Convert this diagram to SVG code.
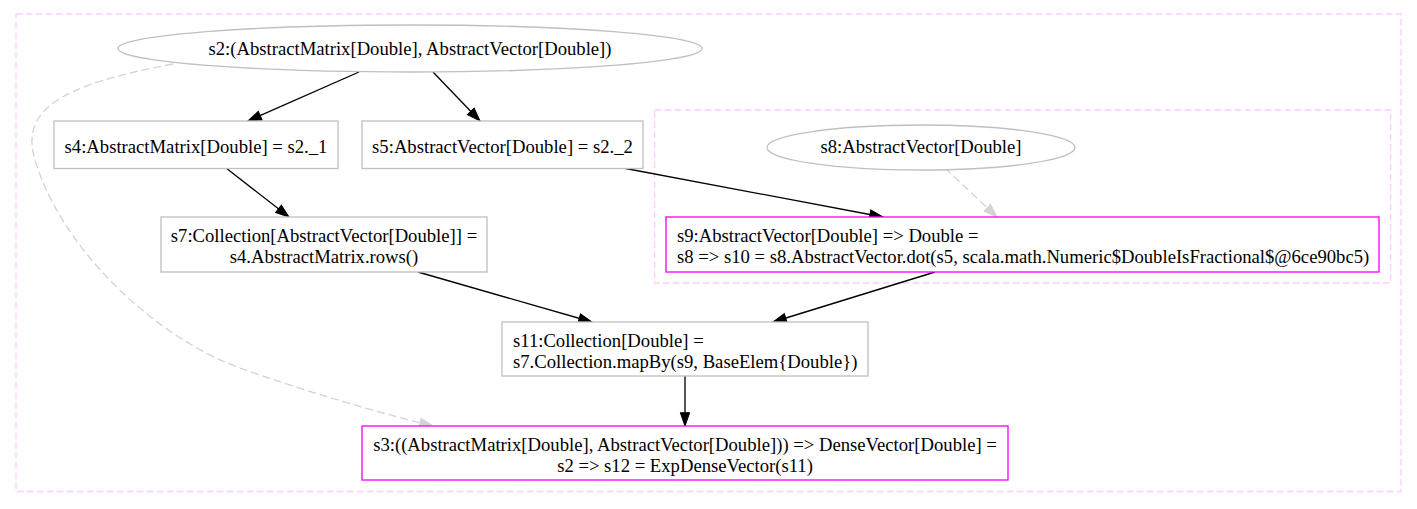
<svg xmlns="http://www.w3.org/2000/svg" width="1417" height="509" viewBox="0 0 1417 509">
<style>
text{font-family:"Liberation Serif","Times New Roman",serif;font-size:18.67px;fill:#000}
.c{text-anchor:middle}
.cl{fill:none;stroke:#ffccff;stroke-width:1.33;stroke-dasharray:6.7,3.3}
.n{fill:#fff;stroke:#c0c0c0;stroke-width:1.33}
.m{fill:#fff;stroke:#ff00ff;stroke-width:1.33}
.e{fill:none;stroke:#000;stroke-width:1.33}
.d{fill:none;stroke:#d3d3d3;stroke-width:1.33;stroke-dasharray:8,4}
</style>
<defs>
<marker id="ab" markerUnits="userSpaceOnUse" markerWidth="14" markerHeight="10" refX="13.3" refY="4.67" orient="auto" overflow="visible">
<path d="M0,0 L13.3,4.67 L0,9.33 Z" fill="#000" stroke="#000" stroke-width="1"/>
</marker>
<marker id="ag" markerUnits="userSpaceOnUse" markerWidth="14" markerHeight="10" refX="13.3" refY="4.67" orient="auto" overflow="visible">
<path d="M0,0 L13.3,4.67 L0,9.33 Z" fill="#d3d3d3" stroke="#d3d3d3" stroke-width="1"/>
</marker>
</defs>
<rect width="1417" height="509" fill="#fff"/>
<g id="clusters">
<rect class="cl" x="16" y="14" width="1385" height="477.5"/>
<rect class="cl" x="654.5" y="110" width="736" height="173"/>
</g>
<g id="connectors">
<path class="e" d="M359,72 L248,121" marker-end="url(#ab)"/>
<path class="e" d="M433,72 L480,121" marker-end="url(#ab)"/>
<path class="e" d="M226,168 L289,217" marker-end="url(#ab)"/>
<path class="e" d="M623,168 L883,217" marker-end="url(#ab)"/>
<path class="d" d="M945,168 L997,217" marker-end="url(#ag)"/>
<path class="e" d="M418,272 L592,322" marker-end="url(#ab)"/>
<path class="e" d="M935,272 L773,322" marker-end="url(#ab)"/>
<path class="e" d="M685,376 L685,426" marker-end="url(#ab)"/>
<path class="d" d="M173,64 C60,85 20,110 35,160 C60,245 150,335 240,368 C310,393 380,413 433,426" marker-end="url(#ag)"/>
</g>
<g id="s2">
<ellipse class="n" cx="410" cy="48.5" rx="292" ry="23.5"/>
<text class="c" x="410" y="54.5">s2:(AbstractMatrix[Double], AbstractVector[Double])</text>
</g>
<g id="s4">
<rect class="n" x="54" y="121" width="284" height="47.5"/>
<text class="c" x="196" y="153">s4:AbstractMatrix[Double] = s2._1</text>
</g>
<g id="s5">
<rect class="n" x="362" y="121" width="281" height="47.5"/>
<text class="c" x="502.5" y="153">s5:AbstractVector[Double] = s2._2</text>
</g>
<g id="s7">
<rect class="n" x="161" y="217" width="326" height="55"/>
<text class="c" x="324" y="242">s7:Collection[AbstractVector[Double]] =</text>
<text class="c" x="324" y="263">s4.AbstractMatrix.rows()</text>
</g>
<g id="s8">
<ellipse class="n" cx="921" cy="147.5" rx="154" ry="22.5"/>
<text class="c" x="921" y="153">s8:AbstractVector[Double]</text>
</g>
<g id="s9">
<rect class="m" x="666" y="217" width="713" height="55"/>
<text x="677" y="242">s9:AbstractVector[Double] =&gt; Double =</text>
<text x="677" y="263">s8 =&gt; s10 = s8.AbstractVector.dot(s5, scala.math.Numeric$DoubleIsFractional$@6ce90bc5)</text>
</g>
<g id="s11">
<rect class="n" x="502" y="322" width="366" height="54"/>
<text x="513" y="347">s11:Collection[Double] =</text>
<text x="513" y="368">s7.Collection.mapBy(s9, BaseElem{Double})</text>
</g>
<g id="s3">
<rect class="m" x="362" y="426" width="646" height="54"/>
<text class="c" x="685" y="451">s3:((AbstractMatrix[Double], AbstractVector[Double])) =&gt; DenseVector[Double] =</text>
<text class="c" x="685" y="472">s2 =&gt; s12 = ExpDenseVector(s11)</text>
</g>
</svg>
